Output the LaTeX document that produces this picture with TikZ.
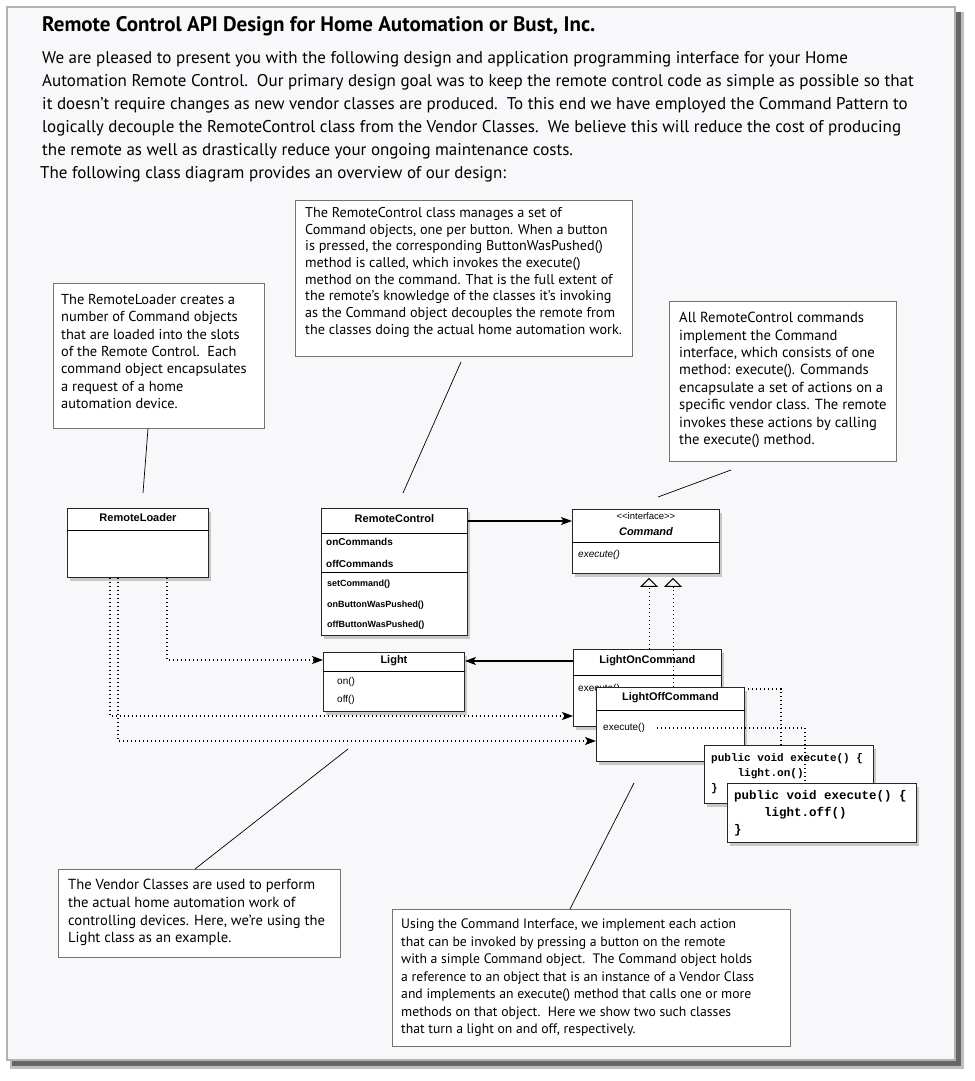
\documentclass[tikz,border=0pt]{standalone}
\usepackage{fontspec}
\setmainfont{PT Sans}
\newfontfamily\umlfont{Liberation Sans}
\newfontfamily\codefont{Liberation Mono}
\usetikzlibrary{arrows.meta,shadows}
\definecolor{paper}{HTML}{F8F8FA}

\begin{document}
\begin{tikzpicture}[x=1pt,y=-1pt,
    note/.style={draw=black!55,line width=0.7pt,fill=white,anchor=north west,inner sep=0pt},
    notetext/.style={anchor=north west,inner sep=0pt,align=left,font=\fontsize{14.4}{17.4}\selectfont},
    uml/.style={draw=black!85,line width=0.9pt,fill=white,anchor=north west,inner sep=0pt,
      drop shadow={shadow xshift=3pt,shadow yshift=-4pt,opacity=0.4}},
    umltitle/.style={inner sep=0pt,font=\umlfont\bfseries\fontsize{11}{13}\selectfont},
    umlitem/.style={anchor=west,inner sep=0pt,font=\umlfont\fontsize{10}{12}\selectfont},
    codetext/.style={anchor=north west,inner sep=0pt,align=left},
    assoc/.style={line width=1.1pt,arrows={-Stealth[length=11pt,width=8pt,inset=2.5pt]}},
    depend/.style={line width=1.2pt,dash pattern=on 1.2pt off 2.8pt,arrows={-Stealth[length=11pt,width=8pt,inset=2.5pt]}},
    realize/.style={line width=1pt,dash pattern=on 1.2pt off 2.8pt,arrows={-Triangle[open,length=9pt,width=18pt]}},
    link/.style={line width=1.2pt,dash pattern=on 1.2pt off 2.8pt},
    leader/.style={line width=0.7pt}]
  \useasboundingbox (0,0) rectangle (974,1081);
  % page
  \fill[black!25] (10,12) rectangle (964,1069);
  \fill[black!60] (12,12) rectangle (961,1066);
  \draw[draw=black!30,line width=1.2pt,fill=paper] (7,7) rectangle (955,1060);

  \node[anchor=north west,inner sep=0pt,font=\bfseries\fontsize{21}{24}\selectfont] (ttl) at (42,16)
    {Remote Control API Design for Home Automation or Bust, Inc.};
  \node[anchor=north west,inner sep=0pt,align=left,font=\fontsize{17}{23}\selectfont] (intro) at (42,51)
    {We are pleased to present you with the following design and application programming interface for your Home\\
     Automation Remote Control.\ \ Our primary design goal was to keep the remote control code as simple as possible so that\\
     it doesn’t require changes as new vendor classes are produced.\ \ To this end we have employed the Command Pattern to\\
     logically decouple the RemoteControl class from the Vendor Classes.\ \ We believe this will reduce the cost of producing\\
     the remote as well as drastically reduce your ongoing maintenance costs.};
  \node[anchor=north west,inner sep=0pt,font=\fontsize{17}{23}\selectfont] (ovw) at (40,166)
    {The following class diagram provides an overview of our design:};

  % notes
  \node[note,minimum width=211pt,minimum height=145pt] (n1) at (53,283) {};
  \node[notetext] (t1) at (61,294) {The RemoteLoader creates a\\number of Command objects\\that are loaded into the slots\\
    of the Remote Control.\ \ Each\\command object encapsulates\\a request of a home\\automation device.};
  \node[note,minimum width=337pt,minimum height=156pt] (n2) at (295,200) {};
  \node[notetext,font=\fontsize{14.2}{16.7}\selectfont] (t2) at (305,207) {The RemoteControl class manages a set of\\
    Command objects, one per button. When a button\\is pressed, the corresponding ButtonWasPushed()\\
    method is called, which invokes the execute()\\method on the command. That is the full extent of\\
    the remote’s knowledge of the classes it’s invoking\\as the Command object decouples the remote from\\
    the classes doing the actual home automation work.};
  \node[note,minimum width=227pt,minimum height=160pt] (n3) at (669,301) {};
  \node[notetext,font=\fontsize{14.6}{17.4}\selectfont] (t3) at (679,312) {All RemoteControl commands\\implement the Command\\interface, which consists of one\\
    method: execute(). Commands\\encapsulate a set of actions on a\\specific vendor class. The remote\\
    invokes these actions by calling\\the execute() method.};
  \node[note,minimum width=282pt,minimum height=88pt] (n4) at (58,869) {};
  \node[notetext,font=\fontsize{14.6}{17.7}\selectfont] (t4) at (68,879) {The Vendor Classes are used to perform\\
    the actual home automation work of\\controlling devices. Here, we’re using the\\Light class as an example.};
  \node[note,minimum width=398pt,minimum height=137pt] (n5) at (392,909) {};
  \node[notetext,font=\fontsize{13.7}{17.5}\selectfont] (t5) at (401,919) {Using the Command Interface, we implement each action\\
    that can be invoked by pressing a button on the remote\\with a simple Command object.\ \ The Command object holds\\
    a reference to an object that is an instance of a Vendor Class\\and implements an execute() method that calls one or more\\
    methods on that object.\ \ Here we show two such classes\\that turn a light on and off, respectively.};

  % leaders
  \coordinate (l1e) at (143,493);
  \coordinate (l2s) at (461,362);
  \coordinate (l2e) at (403,493);
  \coordinate (l3s) at (731,470);
  \coordinate (l3e) at (658,497);
  \coordinate (l4s) at (348,749);
  \coordinate (l5s) at (634,783);
  \draw[leader] ([xshift=95pt]n1.south west) -- (l1e);
  \draw[leader] (l2s) -- (l2e);
  \draw[leader] (l3s) -- (l3e);
  \draw[leader] (l4s) -- ([xshift=137pt]n4.north west);
  \draw[leader] (l5s) -- ([xshift=178pt]n5.north west);

  % classes
  \node[uml,minimum width=141pt,minimum height=69pt] (rl) at (67,508) {};
  \draw[line width=0.9pt] ([yshift=-22pt]rl.north west) -- ([yshift=-22pt]rl.north east);
  \node[umltitle] (rlt) at ([yshift=-10pt]rl.north) {RemoteLoader};

  \node[uml,minimum width=146pt,minimum height=127pt] (rc) at (321,508) {};
  \draw[line width=0.9pt] ([yshift=-25pt]rc.north west) -- ([yshift=-25pt]rc.north east);
  \draw[line width=0.9pt] ([yshift=-64pt]rc.north west) -- ([yshift=-64pt]rc.north east);
  \node[umltitle] (rct) at ([yshift=-11pt]rc.north) {RemoteControl};
  \node[umlitem,font=\umlfont\bfseries\fontsize{10}{12}\selectfont] (rca1) at ([xshift=5pt,yshift=-34pt]rc.north west) {onCommands};
  \node[umlitem,font=\umlfont\bfseries\fontsize{10}{12}\selectfont] (rca2) at ([xshift=5pt,yshift=-56pt]rc.north west) {offCommands};
  \node[umlitem,font=\umlfont\bfseries\fontsize{9}{11}\selectfont] (rcm1) at ([xshift=6pt,yshift=-76pt]rc.north west) {setCommand()};
  \node[umlitem,font=\umlfont\bfseries\fontsize{9}{11}\selectfont] (rcm2) at ([xshift=6pt,yshift=-97pt]rc.north west) {onButtonWasPushed()};
  \node[umlitem,font=\umlfont\bfseries\fontsize{9}{11}\selectfont] (rcm3) at ([xshift=6pt,yshift=-117pt]rc.north west) {offButtonWasPushed()};

  \node[uml,minimum width=147pt,minimum height=64pt] (cmd) at (572,509) {};
  \draw[line width=0.9pt] ([yshift=-33pt]cmd.north west) -- ([yshift=-33pt]cmd.north east);
  \node[inner sep=0pt,font=\umlfont\fontsize{9.5}{11}\selectfont] (cmds) at ([yshift=-7pt]cmd.north) {{<}{<}interface{>}{>}};
  \node[umltitle,font=\umlfont\bfseries\itshape\fontsize{11}{13}\selectfont] (cmdt) at ([yshift=-23pt]cmd.north) {Command};
  \node[umlitem,font=\umlfont\itshape\fontsize{10}{12}\selectfont] (cmdm) at ([xshift=6pt,yshift=-46pt]cmd.north west) {execute()};

  \node[uml,minimum width=141pt,minimum height=59pt] (light) at (323,652) {};
  \draw[line width=0.9pt] ([yshift=-19pt]light.north west) -- ([yshift=-19pt]light.north east);
  \node[umltitle] (lightt) at ([yshift=-9pt]light.north) {Light};
  \node[umlitem] (lightm1) at ([xshift=14pt,yshift=-30pt]light.north west) {on()};
  \node[umlitem] (lightm2) at ([xshift=14pt,yshift=-48pt]light.north west) {off()};

  \draw[assoc] ([yshift=-13pt]rc.north east) -- ([yshift=-13pt]rc.north east -| cmd.west);

  \node[uml,minimum width=148pt,minimum height=77pt] (lon) at (573,649) {};
  \draw[line width=0.9pt] ([yshift=-26pt]lon.north west) -- ([yshift=-26pt]lon.north east);
  \node[umltitle] (lont) at ([yshift=-12pt]lon.north) {LightOnCommand};
  \node[umlitem] (lonx) at ([xshift=5pt,yshift=-40pt]lon.north west) {execute()};

  \draw[assoc] ([yshift=-12pt]lon.north west) -- ([yshift=-12pt]lon.north west -| light.east);
  \draw[realize] ([xshift=76pt]lon.north west) -- ([xshift=77pt,yshift=-4pt]cmd.south west);
  \coordinate (c1in) at (781,745);
  \draw[link] (lonx.east) -| (c1in);

  \node[uml,minimum width=148pt,minimum height=74pt] (loff) at (596,687) {};
  \draw[line width=0.9pt] ([yshift=-23pt]loff.north west) -- ([yshift=-23pt]loff.north east);
  \node[umltitle] (lofft) at ([yshift=-11pt]loff.north) {LightOffCommand};
  \node[umlitem] (loffx) at ([xshift=7pt,yshift=-41pt]loff.north west) {execute()};
  \draw[realize] ([xshift=77pt]loff.north west) -- ([xshift=101pt,yshift=-4pt]cmd.south west);

  \draw[depend] ([xshift=100pt]rl.south west) |- ([yshift=-8pt]light.north west);
  \draw[depend] ([xshift=43pt]rl.south west) |- ([yshift=-67pt]lon.north west);
  \draw[depend] ([xshift=51pt]rl.south west) |- ([yshift=-54pt]loff.north west);

  % code
  \node[uml,minimum width=169pt,minimum height=58pt] (code1) at (704,745) {};
  \node[codetext,font=\codefont\bfseries\fontsize{11}{15}\selectfont] (c1t) at (711,753)
    {public void execute() \{\\\phantom{publ}light.on()\\\}};
  \node[uml,minimum width=189pt,minimum height=59pt] (code2) at (727,783) {};
  \node[codetext,font=\codefont\bfseries\fontsize{12.5}{17}\selectfont] (c2t) at (734,790)
    {public void execute() \{\\\phantom{publ}light.off()\\\}};
  \draw[link] ([xshift=12pt]loffx.east) -| ([xshift=78pt]code2.north west);
\end{tikzpicture}
\end{document}
